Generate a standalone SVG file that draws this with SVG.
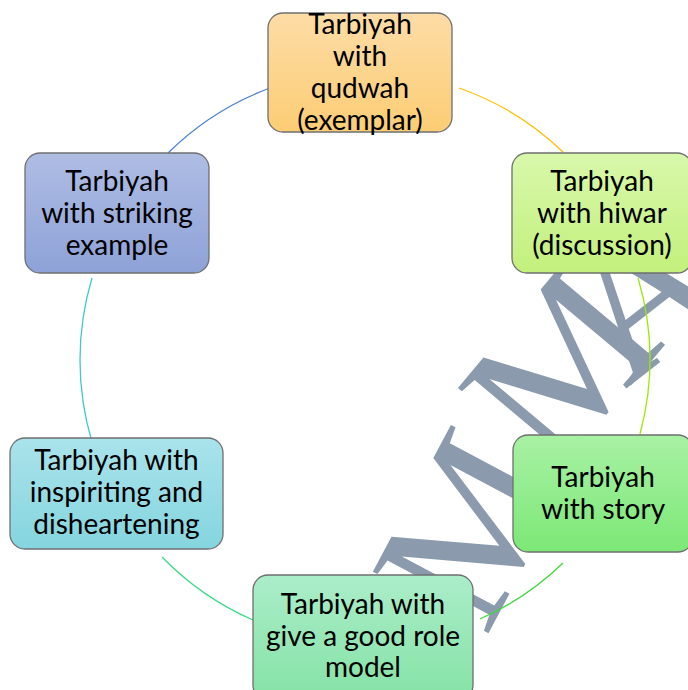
<svg xmlns="http://www.w3.org/2000/svg" width="688" height="690" viewBox="0 0 688 690">
<defs>
<linearGradient id="gOrange" x1="0" y1="0" x2="0" y2="1"><stop offset="0" stop-color="#fddca6"/><stop offset="1" stop-color="#fbcd74"/></linearGradient>
<linearGradient id="gLime" x1="0" y1="0" x2="0" y2="1"><stop offset="0" stop-color="#d8f8ab"/><stop offset="1" stop-color="#c3f07c"/></linearGradient>
<linearGradient id="gBlue" x1="0" y1="0" x2="0" y2="1"><stop offset="0" stop-color="#afbde4"/><stop offset="1" stop-color="#8ea2d8"/></linearGradient>
<linearGradient id="gTeal" x1="0" y1="0" x2="0" y2="1"><stop offset="0" stop-color="#aae3eb"/><stop offset="1" stop-color="#84d5df"/></linearGradient>
<linearGradient id="gGreen" x1="0" y1="0" x2="0" y2="1"><stop offset="0" stop-color="#a8f1a4"/><stop offset="1" stop-color="#7ce876"/></linearGradient>
<linearGradient id="gMint" x1="0" y1="0" x2="0" y2="1"><stop offset="0" stop-color="#abedc9"/><stop offset="1" stop-color="#84e2a5"/></linearGradient>
</defs>
<style>
.box{stroke:#6f6f6f;stroke-width:1.3}
.lbl{font-family:Lato,"Open Sans","Liberation Sans",sans-serif;font-size:28px;fill:#000;text-anchor:middle}
.arc{fill:none;stroke-width:1.3}
.wm{font-family:"Liberation Serif",serif;font-size:200px;fill:#8b9bad;text-anchor:middle;dominant-baseline:central}
</style>
<rect width="688" height="690" fill="#ffffff"/>
<g id="watermark">
<text class="wm" transform="translate(468,528) rotate(-62)">M</text>
<text class="wm" transform="translate(560,365) rotate(-50)">M</text>
<text class="wm" transform="translate(640,292) rotate(-38)">A</text>
</g>
<g id="connectors">
<path class="arc" stroke="#ffc000" d="M459 88 A286 286 0 0 1 563 152"/>
<path class="arc" stroke="#9de60a" d="M638 278 A286 286 0 0 1 640 434"/>
<path class="arc" stroke="#3fd83c" d="M563 563 A286 286 0 0 1 480 619"/>
<path class="arc" stroke="#3adc88" d="M253 620 A286 286 0 0 1 162 557"/>
<path class="arc" stroke="#42c8d2" d="M92 442 A286 286 0 0 1 92 278"/>
<path class="arc" stroke="#4a7fd0" d="M168 153 A286 286 0 0 1 270 88"/>
</g>
<g id="node-qudwah">
<rect class="box" x="268" y="13" width="184" height="119" rx="15" fill="url(#gOrange)"/>
<text class="lbl" x="360" y="34">Tarbiyah</text>
<text class="lbl" x="360" y="66">with</text>
<text class="lbl" x="360" y="98">qudwah</text>
<text class="lbl" x="360" y="130">(exemplar)</text>
</g>
<g id="node-hiwar">
<rect class="box" x="512" y="153" width="180" height="120" rx="15" fill="url(#gLime)"/>
<text class="lbl" x="602" y="191">Tarbiyah</text>
<text class="lbl" x="602" y="223">with hiwar</text>
<text class="lbl" x="602" y="255">(discussion)</text>
</g>
<g id="node-story">
<rect class="box" x="513" y="435" width="180" height="117" rx="15" fill="url(#gGreen)"/>
<text class="lbl" x="603" y="487">Tarbiyah</text>
<text class="lbl" x="603" y="519">with story</text>
</g>
<g id="node-rolemodel">
<rect class="box" x="253" y="575" width="220" height="125" rx="15" fill="url(#gMint)"/>
<text class="lbl" x="363" y="614">Tarbiyah with</text>
<text class="lbl" x="363" y="646">give a good role</text>
<text class="lbl" x="363" y="677">model</text>
</g>
<g id="node-inspiriting">
<rect class="box" x="10" y="438" width="213" height="111" rx="15" fill="url(#gTeal)"/>
<text class="lbl" x="116.5" y="470">Tarbiyah with</text>
<text class="lbl" x="116.5" y="502">inspiriting and</text>
<text class="lbl" x="116.5" y="534">disheartening</text>
</g>
<g id="node-striking">
<rect class="box" x="25" y="153" width="184" height="120" rx="15" fill="url(#gBlue)"/>
<text class="lbl" x="117" y="191">Tarbiyah</text>
<text class="lbl" x="117" y="223">with striking</text>
<text class="lbl" x="117" y="255">example</text>
</g>
</svg>
